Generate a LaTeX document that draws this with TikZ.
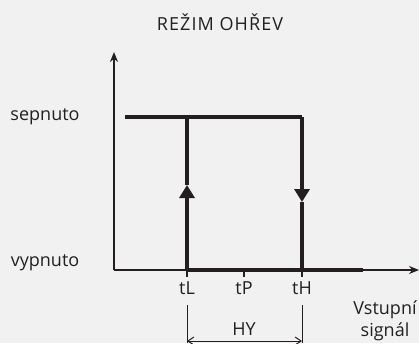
\documentclass[tikz,border=0pt]{standalone}
\usepackage{fontspec}
\setmainfont{Open Sans}
\usepackage{xcolor}
\usetikzlibrary{arrows.meta,positioning}
\definecolor{ink}{RGB}{35,31,32}
\definecolor{board}{RGB}{241,241,241}

\begin{document}
\begin{tikzpicture}[
  x=1pt, y=1pt,
  font=\fontsize{18}{20}\selectfont,
  text=ink,
  axis/.style = {draw=ink, line width=1.8pt, -{Stealth[length=10pt,width=8pt]}},
  thk/.style  = {draw=ink, line width=3.8pt},
  upa/.style  = {thk, -{Triangle[length=13pt,width=15pt]}},
  tck/.style  = {draw=ink, line width=1.4pt},
  dim/.style  = {draw=ink, line width=1pt},
  dar/.style  = {dim, {Straight Barb[length=6pt,width=8pt]}-{Straight Barb[length=6pt,width=8pt]}}
]
%% -- Background --
\fill[board] (0,0) rectangle (419,343);
\useasboundingbox (0,0) rectangle (419,343);
%% -- Axes --
\coordinate (O)    at (114,73);
\coordinate (ytop) at (114,291);
\coordinate (xend) at (419,73);
\draw[axis] (O) -- (ytop);
\draw[axis] (O) -- (xend);
%% -- Switching points --
\coordinate (s0) at (125,226);
\coordinate (sL) at (187,226);
\coordinate (sH) at (302,226);
\coordinate (bL) at (187,73);
\coordinate (bH) at (302,73);
\coordinate (bE) at (363,73);
\coordinate (mL) at (187,158);
\coordinate (mH) at (302,141);
%% -- Hysteresis loop --
\draw[thk, line cap=butt] (s0) -- (sH);
\draw[thk] (bL) -- (bE);
\draw[upa] (bL) -- (mL);
\draw[thk] (mL) -- (sL);
\draw[upa] (sH) -- (mH);
\draw[thk] (mH) -- (bH);
%% -- Ticks and labels --
\coordinate (tp) at (244,73);
\foreach \nd/\lb in {bL/tL,tp/tP,bH/tH}{
  \draw[tck] ([yshift=1pt]\nd) -- ([yshift=-7pt]\nd);
  \node[below=11pt of \nd, inner sep=0pt] (lb\lb) {\lb};}
\node (ssep) at (45,226) {sepnuto};
\node (svyp) at (45,80)  {vypnuto};
\node (ttl)  at (220,321) {\addfontfeature{LetterSpace=6}REŽIM OHŘEV};
\node[align=center, inner sep=0pt, font=\fontsize{18}{22}\selectfont] (vst) at (385,22) {Vstupní\\signál};
%% -- HY dimension --
\coordinate (dL0) at (187,38);
\coordinate (dL1) at (187,0);
\coordinate (dH0) at (302,38);
\coordinate (dH1) at (302,0);
\draw[dim] (dL0) -- (dL1);
\draw[dim] (dH0) -- (dH1);
\coordinate (aL) at (187,2);
\coordinate (aH) at (302,2);
\draw[dar] (aL) -- (aH);
\node (hy) at (244,14) {HY};
\end{tikzpicture}
\end{document}
